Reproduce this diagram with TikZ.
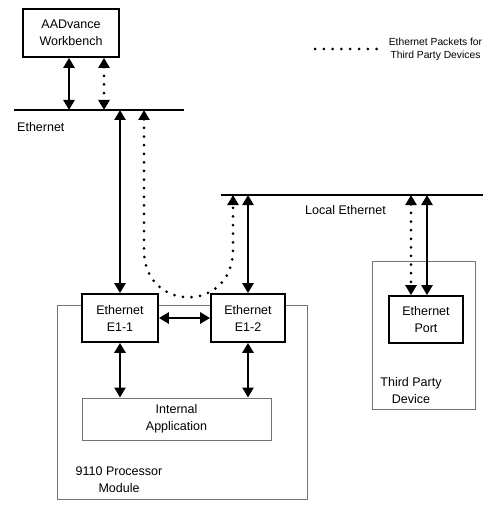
\documentclass[tikz,border=0pt]{standalone}
\usepackage{fontspec}
\setmainfont{Liberation Sans}
\usetikzlibrary{arrows.meta}
\begin{document}
\begin{tikzpicture}[x=1pt,y=-1pt,
  boxtext/.style={font=\fontsize{12.5}{17}\selectfont, align=center, text=black},
  strongbox/.style={boxtext, draw=black, line width=1.7pt, fill=white, inner sep=0pt},
  thinbox/.style={draw=black!55, line width=1pt, inner sep=0pt},
  bus/.style={line width=2pt, black},
  solidarrow/.style={line width=2.8pt, black, {Triangle[length=10pt,width=11pt]}-{Triangle[length=10pt,width=11pt]}},
  dotarrow/.style={line width=3pt, black, line cap=round, dash pattern=on 0pt off 8.6pt, {Triangle[length=10pt,width=11pt]}-{Triangle[length=10pt,width=11pt]}},
  dotline/.style={line width=3pt, black, line cap=round, dash pattern=on 0pt off 8.8pt},
  lbl/.style={boxtext, inner sep=0pt}
]
\useasboundingbox (0,0) rectangle (488,505);

% outer thin boxes
\node[thinbox, minimum width=250pt, minimum height=194pt] (module) at (182,402) {};
\node[thinbox, minimum width=103pt, minimum height=148pt] (tpd) at (423.5,335) {};
\node[thinbox, minimum width=189pt, minimum height=42pt, boxtext] (app) at (176.5,419) {Internal\\Application};

% main boxes
\node[strongbox, minimum width=96pt, minimum height=48pt] (wb) at (71,33) {AADvance\\Workbench};
\node[strongbox, minimum width=76pt, minimum height=48pt] (e11) at (120,318) {Ethernet\\E1-1};
\node[strongbox, minimum width=74pt, minimum height=48pt] (e12) at (248,318) {Ethernet\\E1-2};
\node[strongbox, minimum width=74pt, minimum height=47pt] (port) at (426,319.5) {Ethernet\\Port};

% labels
\node[lbl, anchor=west] (ethlbl) at (17,127) {Ethernet};
\node[lbl, anchor=west] (loclbl) at (305,210) {Local Ethernet};
\node[lbl] (modlbl) at (119,480) {9110 Processor\\Module};
\node[lbl] (tpdlbl) at (411,391) {Third Party\\Device};
\node[lbl, font=\fontsize{10.3}{13}\selectfont, align=center] (leglbl) at (435.5,49) {Ethernet Packets for\\Third Party Devices};

% buses
\coordinate (ethL) at (14,110);
\coordinate (ethR) at (184,110);
\coordinate (locL) at (221,195);
\coordinate (locR) at (483,195);
\draw[bus] (ethL) -- (ethR);
\draw[bus, line width=1.7pt] (locL) -- (locR);

% bus taps
\coordinate (ethA) at (69,110);
\coordinate (ethB) at (104,110);
\coordinate (ethC) at (120,110);
\coordinate (ethD) at (144,110);
\coordinate (locA) at (233,195);
\coordinate (locB) at (248,195);
\coordinate (locC) at (411,195);
\coordinate (locD) at (427,195);

% solid arrows
\draw[solidarrow] (wb.south -| ethA) -- (ethA);
\draw[solidarrow] (ethC) -- (e11.north);
\draw[solidarrow] (locB) -- (e12.north);
\draw[solidarrow] (e11.east) -- (e12.west);
\draw[solidarrow] (e11.south) -- (app.north -| e11.south);
\draw[solidarrow] (e12.south) -- (app.north -| e12.south);
\draw[solidarrow] (locD) -- (port.north -| locD);

% dotted arrows
\draw[dotarrow] (wb.south -| ethB) -- (ethB);
\draw[dotarrow] (locC) -- (port.north -| locC);
\draw[dotarrow] (ethD) -- (144,250) .. controls (144,313) and (233,313) .. (233,250) -- (locA);

% legend
\coordinate (legA) at (315,49);
\coordinate (legB) at (377,49);
\draw[dotline] (legA) -- (legB);
\end{tikzpicture}
\end{document}
